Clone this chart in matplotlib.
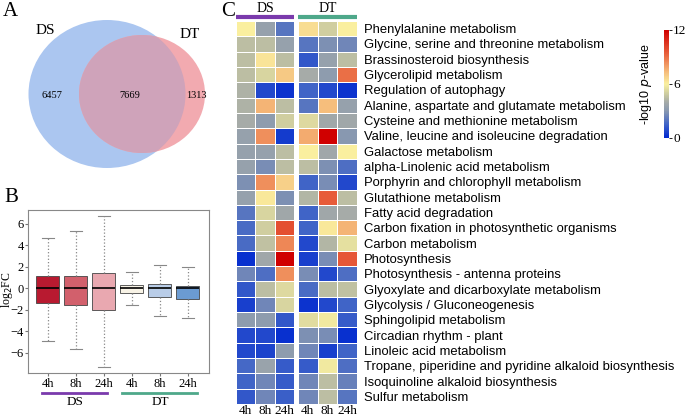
import numpy as np
import matplotlib
matplotlib.use('Agg')
import matplotlib.pyplot as plt
from matplotlib.patches import Ellipse
from matplotlib.colors import LinearSegmentedColormap

W, H = 685, 420
SERIF = 'Liberation Serif'
SANS = 'Liberation Sans'

# A: venn counts
venn_labels = ['DS', 'DT']
ds_only, both, dt_only = 6457, 7669, 1313

# B: log2FC box stats
box_labels = ['4h', '8h', '24h', '4h', '8h', '24h']
box_q1 = [-1.35, -1.6, -2.05, -0.45, -0.8, -1.0]
box_med = [0, 0, 0, 0, 0, 0]
box_q3 = [1.1, 1.15, 1.45, 0.35, 0.4, 0.25]
box_lo = [-4.9, -5.7, -7.3, -1.55, -2.6, -2.8]
box_hi = [4.7, 5.3, 6.7, 1.5, 2.2, 2.0]
box_colors = ['#b81a30', '#d2606c', '#e9a8b0', '#f8f3e6', '#b9cde8', '#6b9bd2']

# C: -log10 p-value heatmap
pathways = [
    'Phenylalanine metabolism',
    'Glycine, serine and threonine metabolism',
    'Brassinosteroid biosynthesis',
    'Glycerolipid metabolism',
    'Regulation of autophagy',
    'Alanine, aspartate and glutamate metabolism',
    'Cysteine and methionine metabolism',
    'Valine, leucine and isoleucine degradation',
    'Galactose metabolism',
    'alpha-Linolenic acid metabolism',
    'Porphyrin and chlorophyll metabolism',
    'Glutathione metabolism',
    'Fatty acid degradation',
    'Carbon fixation in photosynthetic organisms',
    'Carbon metabolism',
    'Photosynthesis',
    'Photosynthesis - antenna proteins',
    'Glyoxylate and dicarboxylate metabolism',
    'Glycolysis / Gluconeogenesis',
    'Sphingolipid metabolism',
    'Circadian rhythm - plant',
    'Linoleic acid metabolism',
    'Tropane, piperidine and pyridine alkaloid biosynthesis',
    'Isoquinoline alkaloid biosynthesis',
    'Sulfur metabolism',
]
time_labels = ['4h', '8h', '24h']
ds_vals = [
    [6.0, 3.5, 2.0], [4.5, 4.5, 3.5], [4.5, 6.3, 4.5], [4.5, 5.2, 7.0],
    [4.2, 0.8, 0.3], [4.2, 7.5, 4.5], [4.0, 3.2, 5.0], [3.5, 8.3, 0.5],
    [3.5, 3.5, 4.5], [3.5, 2.7, 4.5], [2.8, 8.3, 6.8], [3.5, 6.2, 2.8],
    [2.0, 5.2, 3.8], [1.7, 5.0, 9.8], [1.7, 4.6, 8.5], [0.2, 3.8, 12.0],
    [2.5, 1.8, 8.3], [1.2, 4.5, 5.3], [0.6, 2.5, 5.2], [3.2, 3.2, 1.2],
    [0.8, 0.8, 0.2], [0.8, 0.7, 3.2], [1.6, 3.6, 1.3], [1.5, 2.5, 1.3],
    [1.2, 2.5, 1.4],
]
dt_vals = [
    [6.5, 5.0, 6.0], [2.0, 2.8, 2.5], [1.2, 3.5, 4.5], [4.0, 3.2, 9.0],
    [1.5, 0.8, 0.3], [2.0, 7.3, 3.5], [5.3, 3.8, 3.8], [7.7, 12.0, 3.0],
    [6.0, 3.8, 6.0], [4.5, 2.8, 1.8], [1.5, 2.7, 0.8], [4.3, 9.5, 4.5],
    [1.5, 3.8, 4.0], [1.5, 6.2, 7.5], [0.8, 4.3, 5.5], [0.6, 2.7, 9.6],
    [2.7, 0.8, 1.8], [1.7, 4.5, 4.6], [0.3, 0.8, 1.5], [5.4, 5.8, 1.3],
    [2.8, 2.7, 0.2], [2.5, 0.6, 1.5], [1.3, 5.8, 1.8], [2.5, 4.5, 2.3],
    [2.5, 4.5, 2.0],
]

cmap = LinearSegmentedColormap.from_list('pv', [
    (0.0, '#0028d0'), (0.12, '#3d62c8'), (0.25, '#8898b0'), (0.33, '#a4aaa8'),
    (0.4, '#c8c8a0'), (0.5, '#faf0a0'), (0.62, '#f5b878'), (0.78, '#e8603c'),
    (1.0, '#d00000')])

purple = '#7a3aac'
green = '#4ea88a'


def px_axes(fig, x, y, w, h):
    return fig.add_axes([x / W, 1 - (y + h) / H, w / W, h / H])


fig = plt.figure(figsize=(W / 100, H / 100), dpi=100)

# ---------- A: venn ----------
axa = px_axes(fig, 0, 0, 225, 180)
axa.set_xlim(0, 225)
axa.set_ylim(180, 0)
axa.axis('off')
ds_circ = Ellipse((107, 94), 157, 148, facecolor='#abc6f0', edgecolor='none')
axa.add_patch(ds_circ)
dt_circ = Ellipse((142, 94), 126, 118, facecolor='#f2aab0', edgecolor='none')
axa.add_patch(dt_circ)
ov = Ellipse((142, 94), 126, 118, facecolor='#cfa3ba', edgecolor='none')
axa.add_patch(ov)
ov.set_clip_path(ds_circ)
axa.text(52, 95, str(ds_only), ha='center', va='center', fontsize=7.5, family=SERIF)
axa.text(130, 95, str(both), ha='center', va='center', fontsize=7.5, family=SERIF)
axa.text(196, 95, str(dt_only), ha='center', va='center', fontsize=7.5, family=SERIF)
axa.text(45, 31, venn_labels[0], ha='center', va='center', fontsize=11, family=SERIF)
axa.text(190, 34, venn_labels[1], ha='center', va='center', fontsize=11, family=SERIF)
fig.text(10 / W, 1 - 12 / H, 'A', ha='center', va='center', fontsize=15, family=SERIF)

# ---------- B: boxplot ----------
axb = px_axes(fig, 28, 210, 181, 163)
stats = []
for i in range(len(box_labels)):
    stats.append({'med': box_med[i], 'q1': box_q1[i], 'q3': box_q3[i],
                  'whislo': box_lo[i], 'whishi': box_hi[i], 'fliers': []})
pos = np.arange(1, len(box_labels) + 1)
bp = axb.bxp(stats, positions=pos, widths=0.82, patch_artist=True,
             showfliers=False,
             medianprops=dict(color='black', linewidth=1.2),
             whiskerprops=dict(color='#888888', linestyle=':', linewidth=0.9),
             capprops=dict(color='#888888', linewidth=0.8),
             boxprops=dict(edgecolor='#444444', linewidth=0.6))
for patch, c in zip(bp['boxes'], box_colors):
    patch.set_facecolor(c)
axb.set_xlim(0.29, 6.75)
axb.set_ylim(-7.9, 7.3)
axb.set_yticks([-6, -4, -2, 0, 2, 4, 6])
axb.set_xticks(pos)
axb.set_xticklabels(box_labels)
for lab in axb.get_xticklabels() + axb.get_yticklabels():
    lab.set_family(SERIF)
    lab.set_fontsize(9)
axb.tick_params(length=2.5, color='#777777', pad=1)
axb.tick_params(axis='y', pad=0.5)
for s in axb.spines.values():
    s.set_color('#888888')
fig.text(7 / W, 1 - 290 / H, 'log$_2$FC', rotation=90, ha='center', va='center',
         fontsize=8.5, family=SERIF)
fig.add_artist(plt.Line2D([42 / W, 107 / W], [1 - 393 / H] * 2, color=purple, lw=2))
fig.add_artist(plt.Line2D([122 / W, 197 / W], [1 - 393 / H] * 2, color=green, lw=2))
fig.text(75 / W, 1 - 402 / H, 'DS', ha='center', va='center', fontsize=9.5, family=SERIF)
fig.text(160 / W, 1 - 402 / H, 'DT', ha='center', va='center', fontsize=9.5, family=SERIF)
fig.text(11 / W, 1 - 197 / H, 'B', ha='center', va='center', fontsize=15, family=SERIF)

# ---------- C: heatmap ----------
n = len(pathways)
axes_c = []
for (x0, x1), vals, name, col in [((236, 294), ds_vals, 'DS', purple),
                                    ((298, 357), dt_vals, 'DT', green)]:
    ax = px_axes(fig, x0, 21, x1 - x0, 404 - 21)
    ax.pcolormesh(np.array(vals), cmap=cmap, vmin=0, vmax=12,
                  edgecolors='white', linewidth=0.6)
    ax.set_xlim(0, 3)
    ax.set_ylim(n, 0)
    ax.set_xticks(np.arange(3) + 0.5)
    ax.set_xticklabels(time_labels, family=SERIF, fontsize=9.5)
    ax.set_yticks([])
    ax.tick_params(axis='x', length=0, pad=1)
    for s in ax.spines.values():
        s.set_visible(False)
    fig.add_artist(plt.Line2D([x0 / W, x1 / W], [1 - 17 / H] * 2, color=col, lw=3,
                              solid_capstyle='butt'))
    fig.text((x0 + x1) / 2 / W, 1 - 8 / H, name, ha='center', va='center',
             fontsize=10, family=SERIF)
    axes_c.append(ax)

axr = axes_c[1]
axr.yaxis.tick_right()
axr.set_yticks(np.arange(n) + 0.5)
axr.set_yticklabels(pathways, family=SANS, fontsize=9.4)
axr.tick_params(axis='y', length=0, pad=5)
fig.text(228 / W, 1 - 12 / H, 'C', ha='center', va='center', fontsize=15, family=SERIF)

# colorbar
cax = px_axes(fig, 664, 30, 5, 108)
sm = plt.cm.ScalarMappable(cmap=cmap, norm=plt.Normalize(0, 12))
cb = fig.colorbar(sm, cax=cax, ticks=[0, 6, 12])
cb.outline.set_visible(False)
cb.ax.tick_params(length=2, width=0.6, pad=1)
for lab in cb.ax.get_yticklabels():
    lab.set_family(SERIF)
    lab.set_fontsize(9.5)
fig.text(646 / W, 1 - 84 / H, '-log10 $p$-value', rotation=90, ha='center',
         va='center', fontsize=9, family=SANS)

fig.savefig('out.png', dpi=100)
